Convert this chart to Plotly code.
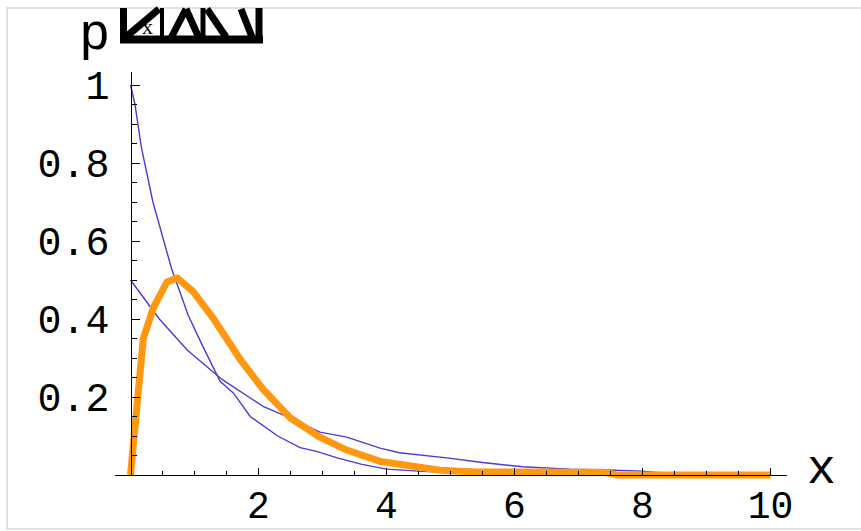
import plotly.graph_objects as go

# ---- data ----
xa = [0, 0.07, 0.17, 0.35, 0.64, 0.9, 1.1, 1.4, 1.61, 1.87, 2.3, 2.65, 2.92, 3.23, 3.6, 4.0, 4.5, 5.0, 6.0, 7.0, 8.0, 9.0, 10.0]
ya = [1.0, 0.95, 0.84, 0.70, 0.53, 0.41, 0.34, 0.24, 0.21, 0.15, 0.10, 0.07, 0.06, 0.044, 0.028, 0.015, 0.010, 0.006, 0.003, 0.002, 0.001, 0.001, 0.001]

xb = [0, 0.45, 0.89, 1.43, 2.08, 2.5, 2.96, 3.38, 3.9, 4.2, 4.94, 5.5, 6.13, 6.86, 7.44, 8.0, 8.3, 9.0, 10.0]
yb = [0.5, 0.40, 0.32, 0.245, 0.175, 0.146, 0.11, 0.097, 0.069, 0.057, 0.044, 0.032, 0.021, 0.015, 0.013, 0.010, 0.005, 0.005, 0.005]

xo = [0, 0.2, 0.36, 0.57, 0.73, 0.98, 1.3, 1.72, 2.07, 2.5, 2.96, 3.38, 3.9, 4.3, 4.63, 4.84, 5.4, 6.5, 7.4, 7.6, 10.0]
yo = [0, 0.35, 0.43, 0.495, 0.505, 0.47, 0.40, 0.295, 0.22, 0.146, 0.097, 0.064, 0.035, 0.025, 0.018, 0.012, 0.008, 0.007, 0.007, 0.0, 0.0]

x_major = [2, 4, 6, 8, 10]
x_major_text = ["2", "4", "6", "8", "10"]
x_minor = [v / 2 for v in range(1, 21) if v % 4 != 0]
y_major = [0.2, 0.4, 0.6, 0.8, 1.0]
y_major_text = ["0.2", "0.4", "0.6", "0.8", "1"]
y_minor = [v / 20 for v in range(1, 21) if v % 4 != 0]

# ---- geometry (pixels) ----
W, H = 861, 531
L, R, T, B = 115, 74, 72, 44
PW, PH = W - L - R, H - T - B
X0PX, XS = 130.5, 64.0     # pixel of x=0, px per unit
Y0PX, YS = 475.0, 390.0    # pixel of y=0, px per unit

xr = [(L - X0PX) / XS, (W - R - X0PX) / XS]
yr = [(Y0PX - (H - B)) / YS, (Y0PX - T) / YS]

def px(x):
    return (x - L) / PW

def py(y):
    return (H - B - y) / PH

BLUE = "#4b3bd2"
ORANGE = "#ff9810"
FONT = "Liberation Mono"

fig = go.Figure()
fig.add_trace(go.Scatter(x=xb, y=yb, mode="lines", line=dict(color=BLUE, width=1.4), showlegend=False))
fig.add_trace(go.Scatter(x=xa, y=ya, mode="lines", line=dict(color=BLUE, width=1.4), showlegend=False))
fig.add_trace(go.Scatter(x=xo, y=yo, mode="lines", line=dict(color=ORANGE, width=7), showlegend=False))
fig.add_trace(go.Scatter(x=[None], y=[None], xaxis="x", yaxis="y2", showlegend=False, hoverinfo="skip"))

fig.update_layout(
    template="none",
    width=W, height=H,
    margin=dict(l=L, r=R, t=T, b=B, autoexpand=False),
    paper_bgcolor="white", plot_bgcolor="rgba(0,0,0,0)",
    showlegend=False,
    xaxis=dict(
        range=xr, anchor="free", position=py(Y0PX), automargin=False,
        showline=True, linecolor="black", linewidth=1,
        showgrid=False, zeroline=False,
        tickmode="array", tickvals=x_major, ticktext=x_major_text,
        ticks="inside", ticklen=7, tickwidth=1, tickcolor="black",
        minor=dict(tickmode="array", tickvals=x_minor, ticks="inside", ticklen=4, tickwidth=1, tickcolor="black"),
        tickfont=dict(family=FONT, size=38, color="black"),
        ticklabelstandoff=-4,
    ),
    yaxis=dict(range=yr, visible=False, showgrid=False, zeroline=False, automargin=False),
    yaxis2=dict(
        domain=[py(Y0PX), 1], range=[0, yr[1]], anchor="free", position=px(X0PX), automargin=False,
        showline=True, linecolor="black", linewidth=1,
        showgrid=False, zeroline=False,
        tickmode="array", tickvals=y_major, ticktext=y_major_text,
        ticks="inside", ticklen=8, tickwidth=1, tickcolor="black",
        minor=dict(tickmode="array", tickvals=y_minor, ticks="inside", ticklen=5, tickwidth=1, tickcolor="black"),
        tickfont=dict(family=FONT, size=40, color="black"),
        ticklabelstandoff=13,
    ),
)

# axis letters
fig.add_annotation(x=px(94), y=py(36), xref="paper", yref="paper", text="p", showarrow=False,
                   font=dict(family=FONT, size=52, color="black"), xanchor="center", yanchor="middle")
fig.add_annotation(x=px(821), y=py(470), xref="paper", yref="paper", text="x", showarrow=False,
                   font=dict(family=FONT, size=48, color="black"), xanchor="center", yanchor="middle")

# frame of the picture
fig.add_shape(type="rect", xref="paper", yref="paper", x0=px(7), x1=px(880), y0=py(529), y1=py(8),
              line=dict(color="#d8d8d8", width=1.5), layer="below")

# garbled subscript glyph next to "p"
def seg(x1, y1, x2, y2, w):
    fig.add_shape(type="line", xref="paper", yref="paper", x0=px(x1), y0=py(y1), x1=px(x2), y1=py(y2),
                  line=dict(color="black", width=w))

seg(120, 39.5, 263, 39.5, 8)
seg(123.5, 8, 123.5, 40, 7)
seg(159, 9, 127, 36, 7)
seg(162, 8, 162, 40, 4)
seg(171, 38, 186, 9, 7)
seg(186, 9, 199, 38, 7)
seg(203, 8, 203, 40, 5)
seg(207, 9, 226, 37, 7)
seg(241, 9, 252, 37, 7)
seg(259, 8, 259, 40, 7)
fig.add_annotation(x=px(147), y=py(27), xref="paper", yref="paper", text="x", showarrow=False,
                   font=dict(family="Liberation Serif", size=22, color="black"), xanchor="center", yanchor="middle")

fig.write_html("out.html")
